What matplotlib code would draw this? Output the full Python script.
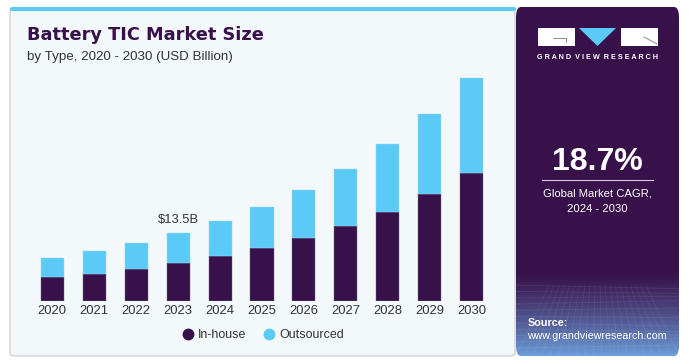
import numpy as np
import matplotlib
matplotlib.use("Agg")
import matplotlib.pyplot as plt
from matplotlib.patches import FancyBboxPatch, Rectangle, Polygon
from matplotlib.lines import Line2D

plt.rcParams['font.family'] = ['Liberation Sans', 'DejaVu Sans']

years = ["2020", "2021", "2022", "2023", "2024", "2025", "2026", "2027", "2028", "2029", "2030"]
inhouse = [4.67, 5.38, 6.32, 7.52, 8.85, 10.51, 12.5, 14.84, 17.75, 21.28, 25.46]
outsourced = [3.84, 4.53, 5.25, 5.98, 7.04, 8.23, 9.6, 11.42, 13.5, 16.01, 18.94]
series_names = ["In-house", "Outsourced"]
annot_label = "$13.5B"
annot_index = 3
cagr_text = "18.7%"

W, H = 696, 361
DARK = "#38114a"
BLUE = "#5ccaf7"
CARD = "#f3f8fb"

fig = plt.figure(figsize=(W / 100, H / 100), dpi=100)
fig.patch.set_facecolor("white")

def fx(x):
    return x / W

def fy(y):
    return 1 - y / H

# card background
card = FancyBboxPatch((fx(10), fy(356)), fx(515) - fx(10), fy(9) - fy(356),
                      boxstyle="round,pad=0,rounding_size=0.008",
                      transform=fig.transFigure, facecolor=CARD,
                      edgecolor="#d0d4d8", linewidth=1.0, zorder=-2)
fig.patches.append(card)
# top blue strip
fig.patches.append(FancyBboxPatch((fx(10), fy(11)), fx(516) - fx(10), fy(7) - fy(11),
                                  boxstyle="round,pad=0,rounding_size=0.004",
                                  transform=fig.transFigure, facecolor=BLUE,
                                  edgecolor="none", zorder=-1))

# right dark panel with gradient
pax = fig.add_axes([fx(516), fy(356), fx(679) - fx(516), fy(7) - fy(356)])
pax.set_xlim(0, 1)
pax.set_ylim(0, 1)
pax.axis("off")
grad = np.zeros((200, 2, 3))
c_top = np.array(matplotlib.colors.to_rgb(DARK))
c_bot = np.array(matplotlib.colors.to_rgb("#6a9ad6"))
for i in range(200):
    t = i / 199  # 0 at top
    frac = max(0.0, (t - 0.76) / 0.24)
    frac = frac ** 1.2
    grad[i, :, :] = c_top * (1 - frac) + c_bot * frac
panel_patch = FancyBboxPatch((0, 0), 1, 1, boxstyle="round,pad=0,rounding_size=0.03",
                             transform=pax.transAxes, facecolor="none", edgecolor="none")
pax.add_patch(panel_patch)
im = pax.imshow(grad, extent=(0, 1, 0, 1), aspect="auto", zorder=0)
im.set_clip_path(panel_patch)
# faint grid lines near the bottom
for k in range(12):
    yy = 0.005 + k * 0.018
    pax.plot([0, 1], [yy, yy + 0.01 * np.sin(k)], color="white", alpha=0.08, lw=0.6)
for k in range(20):
    xx = k / 19
    pax.plot([xx, 0.5 + (xx - 0.5) * 0.6], [0, 0.2], color="white", alpha=0.07, lw=0.6)

# main chart axes
x = np.arange(len(years))
left_px, right_px = 27.1, 496.9
base_px, top_px = 300.7, 60.0
ax = fig.add_axes([fx(left_px), fy(base_px), fx(right_px) - fx(left_px), fy(top_px) - fy(base_px)])
ax.set_facecolor("none")
ax.bar(x, inhouse, width=0.55, color=DARK, edgecolor="#6a6a80", linewidth=0.3, zorder=2)
ax.bar(x, outsourced, width=0.55, bottom=inhouse, color=BLUE, edgecolor="#9ad8f5", linewidth=0.3, zorder=2)
ax.set_xlim(-0.6, 10.6)
ax.set_ylim(0, 48)
ax.set_xticks(x)
ax.set_xticklabels(years, fontsize=9.4, color="#333333")
ax.tick_params(axis="x", length=0, pad=3)
ax.set_yticks([])
for s in ax.spines.values():
    s.set_visible(False)
tot = inhouse[annot_index] + outsourced[annot_index]
ax.annotate(annot_label, (x[annot_index], tot), xytext=(0, 5), textcoords="offset points",
            ha="center", va="bottom", fontsize=9.4, color="#333333")

# legend
handles = [Line2D([], [], marker="o", linestyle="none", markersize=7.5, color=DARK),
           Line2D([], [], marker="o", linestyle="none", markersize=7.5, color=BLUE)]
fig.legend(handles, series_names, loc="center", bbox_to_anchor=(fx(263), fy(335)), ncol=2,
           frameon=False, fontsize=9, handletextpad=0.3, columnspacing=1.3,
           labelcolor="#333333", handlelength=1.0)

# titles
fig.text(fx(27), fy(35), "Battery TIC Market Size", fontsize=12.8, fontweight="bold",
         color=DARK, ha="left", va="center", family="DejaVu Sans")
fig.text(fx(27), fy(57), "by Type, 2020 - 2030 (USD Billion)", fontsize=9.6,
         color="#333333", ha="left", va="center")

# logo
fig.patches.append(Rectangle((fx(538), fy(46)), fx(575) - fx(538), fy(28) - fy(46),
                             transform=fig.transFigure, facecolor="white", edgecolor="none", zorder=5))
fig.lines.append(Line2D([fx(553), fx(566)], [fy(38), fy(38)], transform=fig.transFigure,
                        color="#8a8a9a", lw=0.7, zorder=6))
fig.lines.append(Line2D([fx(566), fx(566)], [fy(38), fy(42)], transform=fig.transFigure,
                        color="#8a8a9a", lw=0.7, zorder=6))
fig.patches.append(Polygon([(fx(579), fy(28)), (fx(616), fy(28)), (fx(597.5), fy(46))],
                           closed=True, transform=fig.transFigure, facecolor=BLUE,
                           edgecolor="none", zorder=5))
fig.patches.append(Rectangle((fx(621), fy(46)), fx(658) - fx(621), fy(28) - fy(46),
                             transform=fig.transFigure, facecolor="white", edgecolor="none", zorder=5))
fig.lines.append(Line2D([fx(644), fx(657)], [fy(37), fy(44)], transform=fig.transFigure,
                        color="#8a8a9a", lw=0.7, zorder=6))
fig.text(fx(597.5), fy(57.5), "G R A N D   V I E W   R E S E A R C H".replace("   ", "  "),
         fontsize=5.2, fontweight="bold", color="white", ha="center", va="center")

# CAGR
fig.text(fx(597.5), fy(162), cagr_text, fontsize=23, fontweight="bold", color="white",
         ha="center", va="center")
fig.lines.append(Line2D([fx(542), fx(653)], [fy(180.3), fy(180.3)], transform=fig.transFigure,
                        color="white", lw=0.8, alpha=0.8))
fig.text(fx(597.5), fy(193), "Global Market CAGR,", fontsize=8.1, color="white",
         ha="center", va="center")
fig.text(fx(597.5), fy(208.5), "2024 - 2030", fontsize=8.1, color="white",
         ha="center", va="center")

# source
fig.text(fx(527.5), fy(323), "Source:", fontsize=7.8, fontweight="bold", color="white",
         ha="left", va="center")
fig.text(fx(527.5), fy(336), "www.grandviewresearch.com", fontsize=7.7, color="white",
         ha="left", va="center")

fig.savefig("out.png", dpi=100, facecolor="white")
